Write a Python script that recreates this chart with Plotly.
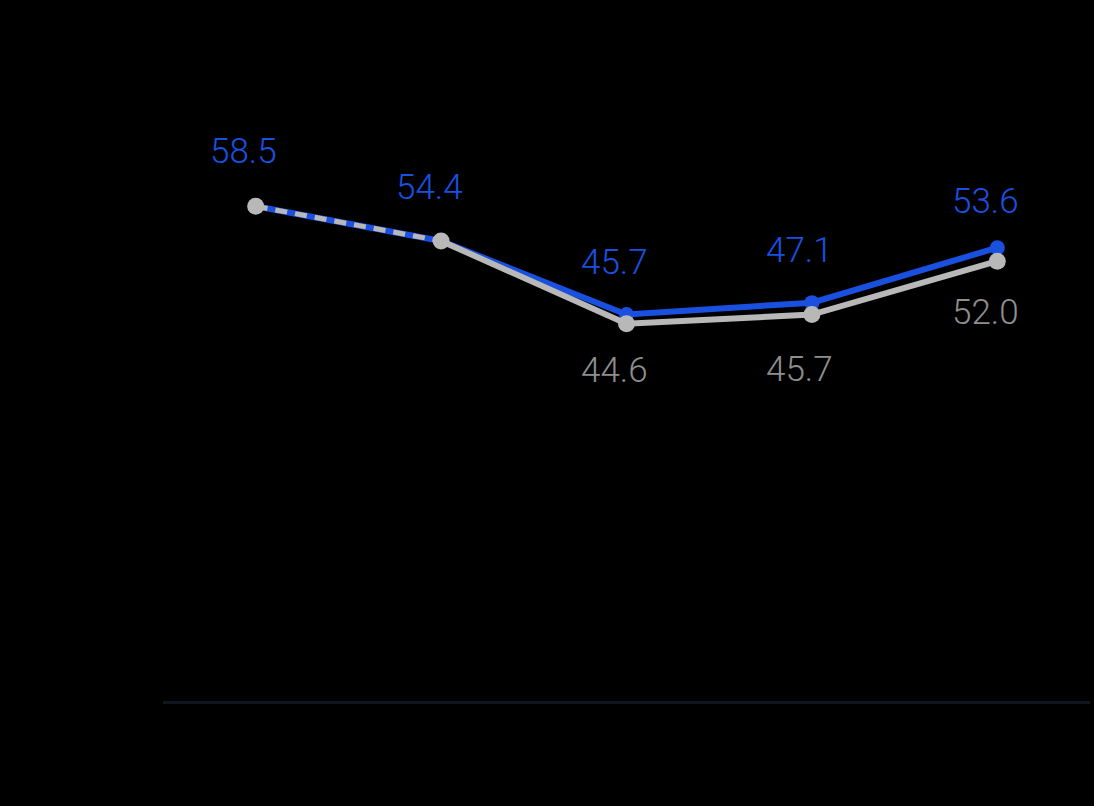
import plotly.graph_objects as go

categories = ["C1", "C2", "C3", "C4", "C5"]
blue_values = [58.5, 54.4, 45.7, 47.1, 53.6]
gray_values = [58.5, 54.4, 44.6, 45.7, 52.0]
blue_labels = ["58.5", "54.4", "45.7", "47.1", "53.6"]
gray_labels = ["", "", "44.6", "45.7", "52.0"]

# label offsets (style only, in pixels)
blue_label_shift = [55, 53, 52, 52, 46]
gray_label_shift = [0, 0, -47, -55, -51]

BLUE = "#1a50e0"
GRAY = "#b8b8b8"
GRAY_TXT = "#8e8e8e"

fig = go.Figure()
fig.add_trace(go.Scatter(x=categories, y=blue_values, mode="lines+markers",
                         line=dict(color=BLUE, width=6),
                         marker=dict(color=BLUE, size=15), showlegend=False,
                         hoverinfo="skip"))
fig.add_trace(go.Scatter(x=categories[:2], y=gray_values[:2], mode="lines",
                         line=dict(color=GRAY, width=5, dash="12px,8px"),
                         showlegend=False, hoverinfo="skip"))
fig.add_trace(go.Scatter(x=categories[1:], y=gray_values[1:], mode="lines",
                         line=dict(color=GRAY, width=6),
                         showlegend=False, hoverinfo="skip"))
fig.add_trace(go.Scatter(x=categories, y=gray_values, mode="markers",
                         marker=dict(color=GRAY, size=17),
                         showlegend=False, hoverinfo="skip"))

font_fam = "Roboto, Inter, sans-serif"
for c, v, t, s in zip(categories, blue_values, blue_labels, blue_label_shift):
    fig.add_annotation(x=c, y=v, text=t, showarrow=False, yshift=s, xshift=-12,
                       font=dict(family=font_fam, size=35, color=BLUE, weight=300))
for c, v, t, s in zip(categories, gray_values, gray_labels, gray_label_shift):
    if t:
        fig.add_annotation(x=c, y=v, text=t, showarrow=False, yshift=s, xshift=-12,
                           font=dict(family=font_fam, size=35, color=GRAY_TXT, weight=300))

fig.update_layout(
    width=1094, height=806,
    paper_bgcolor="#000000", plot_bgcolor="#000000",
    margin=dict(l=163, r=4, t=109, b=105),
    xaxis=dict(type="category", range=[-0.5, 4.5], showgrid=False, zeroline=False,
               showline=True, linecolor="#0e1620", linewidth=3,
               showticklabels=False, ticks=""),
    yaxis=dict(range=[0, 70], showgrid=False, zeroline=False, showline=False,
               showticklabels=False, ticks=""),
)

fig.write_html("out.html", config={"displayModeBar": False},
               post_script="document.body.style.margin='0';document.body.style.background='#000';")
